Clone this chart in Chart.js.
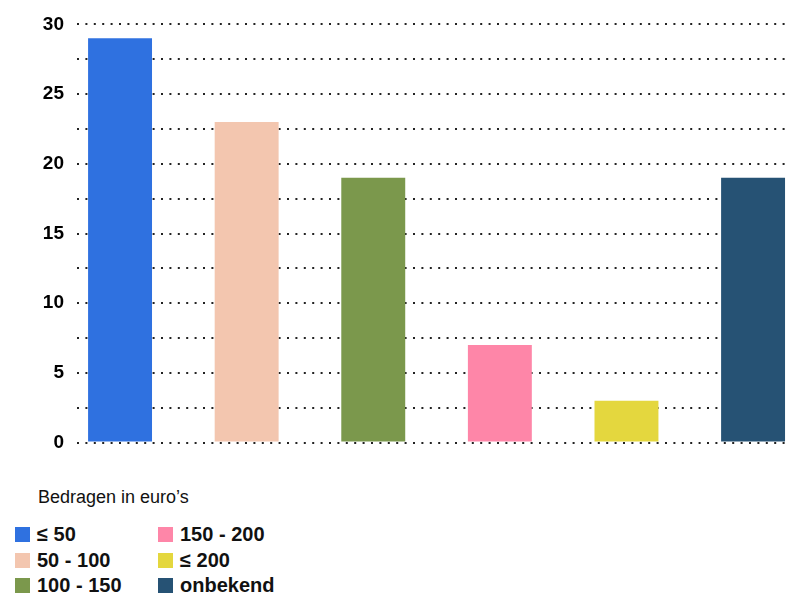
<!DOCTYPE html>
<html>
<head>
<meta charset="utf-8">
<script src="https://cdn.jsdelivr.net/npm/chart.js@4"></script>
<style>
  html, body { margin: 0; padding: 0; background: #fff; }
  body { width: 789px; height: 598px; overflow: hidden; font-family: "Liberation Sans", Arial, sans-serif; }
  #wrap { position: relative; width: 789px; height: 467px; }
  #legend { position: absolute; left: 0; top: 486px; width: 789px; }
  #legend .title { position: absolute; left: 38px; top: 1px; font-size: 18px; color: #111; }
  #legend .item { position: absolute; font-size: 20px; font-weight: bold; color: #111; white-space: nowrap; }
  #legend .sw { position: absolute; left: 0; top: 4px; width: 15px; height: 15px; }
  #legend .lbl { position: absolute; left: 22px; top: 0; }
</style>
</head>
<body>
<div id="wrap"><canvas id="chart"></canvas></div>
<div id="legend"></div>
<script>
// --- Data ---
const categories = ['≤ 50', '50 - 100', '100 - 150', '150 - 200', '≤ 200', 'onbekend'];
const values = [29, 23, 19, 7, 3, 19];
const colors = ['#2f71e0', '#f3c6af', '#7b984c', '#fe86a8', '#e4d73e', '#265274'];
const yTicks = [0, 5, 10, 15, 20, 25, 30];
const legendTitle = 'Bedragen in euro\u2019s';

// --- Chart ---
const ctx = document.getElementById('chart').getContext('2d');
const chart = new Chart(ctx, {
    type: 'bar',
    data: {
        datasets: [{
            data: values.map((v, i) => ({ x: i, y: v })),
            backgroundColor: colors,
            borderWidth: 0,
            categoryPercentage: 1,
            barPercentage: 0.505
        }]
    },
    options: {
        responsive: true,
        maintainAspectRatio: false,
        animation: false,
        layout: { padding: { top: 17, right: 2, bottom: 4.5, left: 0 } },
        plugins: {
            legend: { display: false },
            tooltip: {
                callbacks: {
                    title: (items) => categories[items[0].parsed.x]
                }
            }
        },
        scales: {
            x: {
                type: 'linear',
                min: -0.34,
                max: 5.268,
                offset: false,
                display: false
            },
            y: {
                min: 0,
                max: 30,
                border: { display: false, dash: [2, 6.4] },
                grid: {
                    color: '#222',
                    lineWidth: 2,
                    drawTicks: false
                },
                ticks: {
                    stepSize: 2.5,
                    padding: 13,
                    color: '#000',
                    font: { family: '"Liberation Sans", Arial, sans-serif', size: 19, weight: 'bold' },
                    callback: (v) => yTicks.includes(v) ? String(v) : ''
                },
                afterFit: (scale) => { scale.width = 77; }
            }
        }
    }
});

// --- Legend (two columns, like the reference) ---
const legend = document.getElementById('legend');
legend.innerHTML = '<div class="title">' + legendTitle + '</div>';
categories.forEach((cat, i) => {
    const col = Math.floor(i / 3);
    const row = i % 3;
    const el = document.createElement('div');
    el.className = 'item';
    el.style.left = (15 + col * 143) + 'px';
    el.style.top = (37 + row * 25.5) + 'px';
    el.innerHTML = '<span class="sw" style="background:' + colors[i] + '"></span><span class="lbl">' + cat + '</span>';
    legend.appendChild(el);
});
</script>
</body>
</html>
